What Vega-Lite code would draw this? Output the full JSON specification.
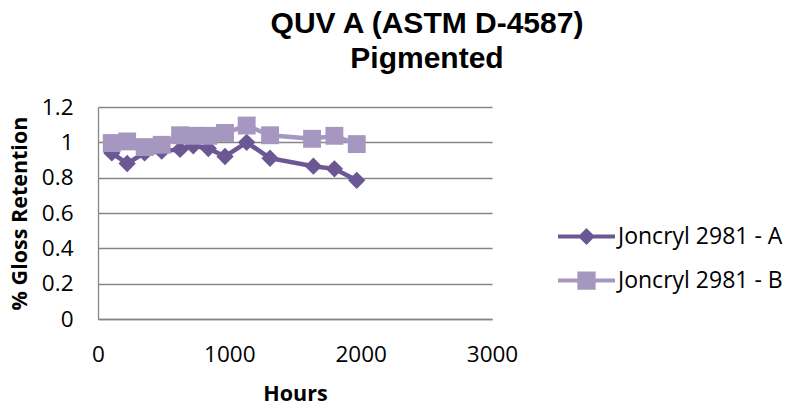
{
  "$schema": "https://vega.github.io/schema/vega-lite/v6.json",
  "autosize": {"type": "none"},
  "width": 394,
  "height": 212,
  "padding": {"left": 98, "top": 107, "right": 298, "bottom": 87},
  "background": "white",
  "title": {
    "text": ["QUV A (ASTM D-4587)", "Pigmented"],
    "font": "Liberation Sans",
    "fontSize": 30,
    "fontWeight": "bold",
    "color": "#000000",
    "anchor": "middle",
    "dx": 132,
    "dy": 38,
    "lineHeight": 35,
    "baseline": "bottom",
    "offset": 30
  },
  "config": {
    "view": {"stroke": null},
    "axis": {
      "labelFont": "Open Sans",
      "titleFont": "Open Sans",
      "labelColor": "#000000",
      "titleColor": "#000000",
      "labelFontSize": 22.5,
      "titleFontSize": 21.5,
      "titleFontWeight": "bold",
      "domainColor": "#868686",
      "gridColor": "#868686",
      "domainWidth": 1.3,
      "gridWidth": 1.3,
      "ticks": false,
      "labelFlush": false
    }
  },
  "data": {
    "values": [
      {"series": "Joncryl 2981 - A", "hours": 105, "value": 0.94},
      {"series": "Joncryl 2981 - A", "hours": 222, "value": 0.88},
      {"series": "Joncryl 2981 - A", "hours": 355, "value": 0.94},
      {"series": "Joncryl 2981 - A", "hours": 485, "value": 0.95},
      {"series": "Joncryl 2981 - A", "hours": 625, "value": 0.96},
      {"series": "Joncryl 2981 - A", "hours": 725, "value": 0.98},
      {"series": "Joncryl 2981 - A", "hours": 840, "value": 0.965},
      {"series": "Joncryl 2981 - A", "hours": 967, "value": 0.92},
      {"series": "Joncryl 2981 - A", "hours": 1132, "value": 1.0},
      {"series": "Joncryl 2981 - A", "hours": 1310, "value": 0.91},
      {"series": "Joncryl 2981 - A", "hours": 1640, "value": 0.865},
      {"series": "Joncryl 2981 - A", "hours": 1800, "value": 0.85},
      {"series": "Joncryl 2981 - A", "hours": 1970, "value": 0.785},
      {"series": "Joncryl 2981 - B", "hours": 105, "value": 0.996},
      {"series": "Joncryl 2981 - B", "hours": 222, "value": 1.005},
      {"series": "Joncryl 2981 - B", "hours": 355, "value": 0.973},
      {"series": "Joncryl 2981 - B", "hours": 485, "value": 0.986},
      {"series": "Joncryl 2981 - B", "hours": 625, "value": 1.04},
      {"series": "Joncryl 2981 - B", "hours": 725, "value": 1.037},
      {"series": "Joncryl 2981 - B", "hours": 840, "value": 1.037},
      {"series": "Joncryl 2981 - B", "hours": 967, "value": 1.053},
      {"series": "Joncryl 2981 - B", "hours": 1132, "value": 1.095},
      {"series": "Joncryl 2981 - B", "hours": 1310, "value": 1.04},
      {"series": "Joncryl 2981 - B", "hours": 1630, "value": 1.02},
      {"series": "Joncryl 2981 - B", "hours": 1800, "value": 1.037},
      {"series": "Joncryl 2981 - B", "hours": 1970, "value": 0.99}
    ]
  },
  "encoding": {
    "x": {
      "field": "hours",
      "type": "quantitative",
      "scale": {"domain": [0, 3000], "nice": false},
      "axis": {
        "values": [0, 1000, 2000, 3000],
        "format": "d",
        "grid": false,
        "labelPadding": 24,
        "title": "Hours",
        "titlePadding": 18
      }
    },
    "y": {
      "field": "value",
      "type": "quantitative",
      "scale": {"domain": [0, 1.2], "nice": false},
      "axis": {
        "values": [0, 0.2, 0.4, 0.6, 0.8, 1, 1.2],
        "format": "~g",
        "grid": true,
        "labelPadding": 25,
        "title": "% Gloss Retention",
        "titlePadding": 10
      }
    },
    "color": {
      "field": "series",
      "type": "nominal",
      "scale": {
        "domain": ["Joncryl 2981 - A", "Joncryl 2981 - B"],
        "range": ["#6B5794", "#A697C1"]
      },
      "legend": {
        "title": null,
        "orient": "none",
        "legendX": 477,
        "legendY": 118,
        "padding": 0,
        "labelFont": "Open Sans",
        "labelFontSize": 23,
        "labelColor": "#000000",
        "labelLimit": 400,
        "labelOffset": 20,
        "rowPadding": 14,
        "symbolSize": 225,
        "encode": {
          "symbols": {
            "update": {
              "shape": {"signal": "datum.value === 'Joncryl 2981 - A' ? 'M-3.8,0L3.8,0M0,-0.75L0.75,0L0,0.75L-0.75,0Z' : 'M-3.8,0L3.8,0M-0.95,-0.95L0.95,-0.95L0.95,0.95L-0.95,0.95Z'"},
              "fill": {"scale": "color", "field": "value"},
              "stroke": {"scale": "color", "field": "value"},
              "strokeWidth": {"value": 4},
              "size": {"value": 225},
              "opacity": {"value": 1},
              "fillOpacity": {"value": 1}
            }
          }
        }
      }
    }
  },
  "layer": [
    {
      "transform": [{"filter": "datum.series === 'Joncryl 2981 - A'"}],
      "mark": {"type": "line", "strokeWidth": 4.5}
    },
    {
      "transform": [{"filter": "datum.series === 'Joncryl 2981 - A'"}],
      "mark": {"type": "point", "shape": "diamond", "filled": true, "size": 300, "opacity": 1}
    },
    {
      "transform": [{"filter": "datum.series === 'Joncryl 2981 - B'"}],
      "mark": {"type": "line", "strokeWidth": 4.5}
    },
    {
      "transform": [{"filter": "datum.series === 'Joncryl 2981 - B'"}],
      "mark": {"type": "point", "shape": "square", "filled": true, "size": 320, "opacity": 1}
    }
  ]
}
